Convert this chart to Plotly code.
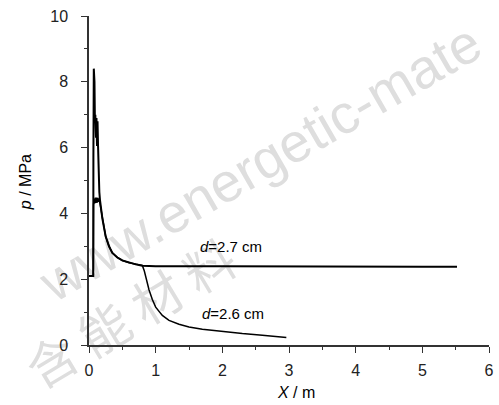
import plotly.graph_objects as go

# d = 2.7 cm curve
x_27 = [0, 0.064, 0.066, 0.072, 0.078, 0.082, 0.088, 0.095, 0.105, 0.112, 0.12, 0.128,
        0.135, 0.142, 0.146, 0.155, 0.165, 0.18, 0.2, 0.25, 0.3, 0.35, 0.425, 0.5,
        0.6, 0.7, 0.8, 1.0, 2.0, 3.0, 4.0, 5.0, 5.52]
p_27 = [2.1, 2.1, 5.7, 8.4, 7.2, 8.0, 6.9, 7.0, 6.3, 6.9, 6.05, 6.8,
        6.1, 5.4, 4.8, 4.65, 4.4, 4.15, 3.85, 3.3, 3.0, 2.8, 2.66, 2.57,
        2.5, 2.45, 2.41, 2.39, 2.39, 2.38, 2.39, 2.38, 2.38]

# d = 2.6 cm curve
x_26 = [0, 0.064, 0.068, 0.075, 0.085, 0.095, 0.105, 0.115, 0.125, 0.135, 0.145, 0.155,
        0.165, 0.18, 0.2, 0.25, 0.3, 0.35, 0.425, 0.5, 0.6, 0.7, 0.8, 0.83, 0.86,
        0.9, 0.95, 1.0, 1.1, 1.2, 1.35, 1.5, 1.7, 2.0, 2.3, 2.6, 2.8, 2.96]
p_26 = [2.1, 2.1, 4.25, 4.45, 4.3, 4.48, 4.32, 4.48, 4.33, 4.47, 4.35, 4.42,
        4.3, 4.12, 3.85, 3.3, 3.0, 2.8, 2.66, 2.57, 2.5, 2.45, 2.42, 2.25, 2.0,
        1.68, 1.38, 1.15, 0.9, 0.75, 0.63, 0.55, 0.48, 0.41, 0.35, 0.3, 0.27, 0.23]

x_ticks = [0, 1, 2, 3, 4, 5, 6]
y_ticks = [0, 2, 4, 6, 8, 10]
labels = ["<i>d</i>=2.7 cm", "<i>d</i>=2.6 cm"]

FONT = "Liberation Sans, Arial, sans-serif"
WM = "rgb(222,222,222)"

# margins / plot box in pixels (used to place the watermark in paper coords)
L, R, T, B, W, H = 89, 5, 16, 60, 499, 405
PW, PH = W - L - R, H - T - B


def px2paper(px, py):
    return (px - L) / PW, (H - B - py) / PH


def watermark(text, cx, cy, angle_deg, size, family):
    import math
    a = math.radians(angle_deg)
    dx, dy = 100 * math.cos(a), 100 * math.sin(a)
    x0, y0 = px2paper(cx - dx, cy + dy)
    x1, y1 = px2paper(cx + dx, cy - dy)
    return dict(type="line", xref="paper", yref="paper", x0=x0, y0=y0, x1=x1, y1=y1,
                layer="below", line=dict(color="rgba(0,0,0,0)", width=0),
                label=dict(text=text, textangle=-angle_deg, textposition="middle",
                           xanchor="center", yanchor="middle", padding=0,
                           font=dict(family=family, size=size, color=WM)))


fig = go.Figure()
fig.add_trace(go.Scatter(x=x_26, y=p_26, mode="lines",
                         line=dict(color="black", width=1.5), showlegend=False))
fig.add_trace(go.Scatter(x=x_27, y=p_27, mode="lines",
                         line=dict(color="black", width=2), showlegend=False))

shapes = [
    watermark("www.energetic-mate", 260, 158, 30, 55, FONT),
    watermark("含 能 材 料", 134, 318, 31, 50, "Noto Sans CJK SC"),
]

annotations = [
    dict(text=labels[0], x=1.64, y=2.98, xanchor="left", yanchor="middle",
         showarrow=False, font=dict(family=FONT, size=15, color="black")),
    dict(text=labels[1], x=1.66, y=0.97, xanchor="left", yanchor="middle",
         showarrow=False, font=dict(family=FONT, size=15, color="black")),
    dict(text="<i>X</i> / m", xref="x", x=3.1, yref="paper", y=0, yshift=-47,
         yanchor="middle", showarrow=False, font=dict(family=FONT, size=16, color="black")),
    dict(text="<i>p</i> / MPa", xref="paper", x=0, xshift=-64, yref="y", y=4.95,
         xanchor="center", yanchor="middle", textangle=-90, showarrow=False,
         font=dict(family=FONT, size=16, color="black")),
]

axis_common = dict(showline=True, linecolor="#333333", linewidth=1.5,
                   ticks="outside", ticklen=6, tickwidth=1.3, tickcolor="#333333",
                   showgrid=False, zeroline=False,
                   tickfont=dict(family=FONT, size=16, color="#222222"))

fig.update_layout(
    width=W, height=H,
    margin=dict(l=L, r=R, t=T, b=B),
    plot_bgcolor="white", paper_bgcolor="white",
    annotations=annotations, shapes=shapes,
    xaxis=dict(range=[0, 6], tickvals=x_ticks, ticklabelstandoff=4,
               minor=dict(ticks="outside", ticklen=3, dtick=0.5, tickcolor="#333333"),
               **axis_common),
    yaxis=dict(range=[0, 10], tickvals=y_ticks, ticklabelstandoff=10,
               minor=dict(ticks="outside", ticklen=3, dtick=1, tickcolor="#333333"),
               **axis_common),
)

fig.write_html("out.html")
